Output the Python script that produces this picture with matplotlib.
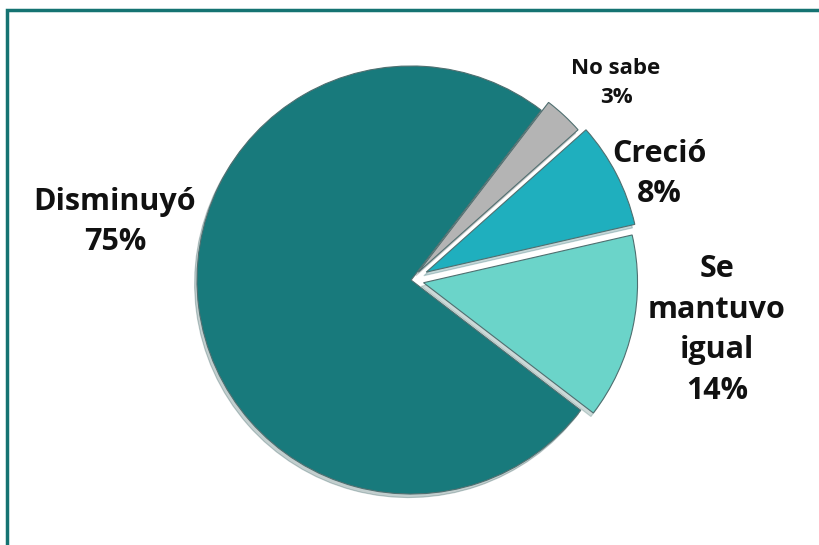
import matplotlib.pyplot as plt
from matplotlib.patches import Rectangle

# datos
categorias = ["Disminuyó", "Se\nmantuvo\nigual", "Creció", "No sabe"]
porcentajes = [75, 14, 8, 3]
colores = ["#187a7c", "#6bd4c9", "#1fafbe", "#b4b4b4"]
separacion = [0.0, 0.06, 0.08, 0.05]

# posiciones de las etiquetas (px, origen arriba-izquierda) y tamaños
pos_etiquetas = [(115, 222), (717, 330), (659, 174), (616, 83)]
tam_etiquetas = [22, 22, 22, 16]

W, H = 819, 545
fig = plt.figure(figsize=(W / 100, H / 100), dpi=100)

# marco
fig.patches.append(Rectangle((6.5 / W, -0.05), 1.2, 1 - 9.5 / H + 0.05,
                             transform=fig.transFigure, fill=False,
                             edgecolor="#157372", linewidth=2.5))

# pie: centro (411, 280) px, radio 214 px
cx, cy, R, half = 411, 280, 214, 260
ax = fig.add_axes([(cx - half) / W, (H - cy - half) / H, 2 * half / W, 2 * half / H])

wedges, _ = ax.pie(porcentajes, colors=colores, explode=separacion,
                   startangle=52.5, counterclock=True, radius=1,
                   wedgeprops=dict(edgecolor="#4f6f70", linewidth=0.8),
                   shadow=dict(ox=-0.008, oy=-0.012, shade=0.5, alpha=0.25))
for w in wedges:
    w.set_clip_on(False)

# pie() fija sus propios límites, se corrigen después
lim = half / R
ax.set_xlim(-lim, lim)
ax.set_ylim(-lim, lim)
ax.axis("off")

for cat, val, (x, y), size in zip(categorias, porcentajes, pos_etiquetas, tam_etiquetas):
    fig.text(x / W, 1 - y / H, f"{cat}\n{val}%", ha="center", va="center",
             fontsize=size, fontweight="bold", family="Open Sans",
             linespacing=1.45, color="#111111")

plt.savefig("out.png", dpi=100)
